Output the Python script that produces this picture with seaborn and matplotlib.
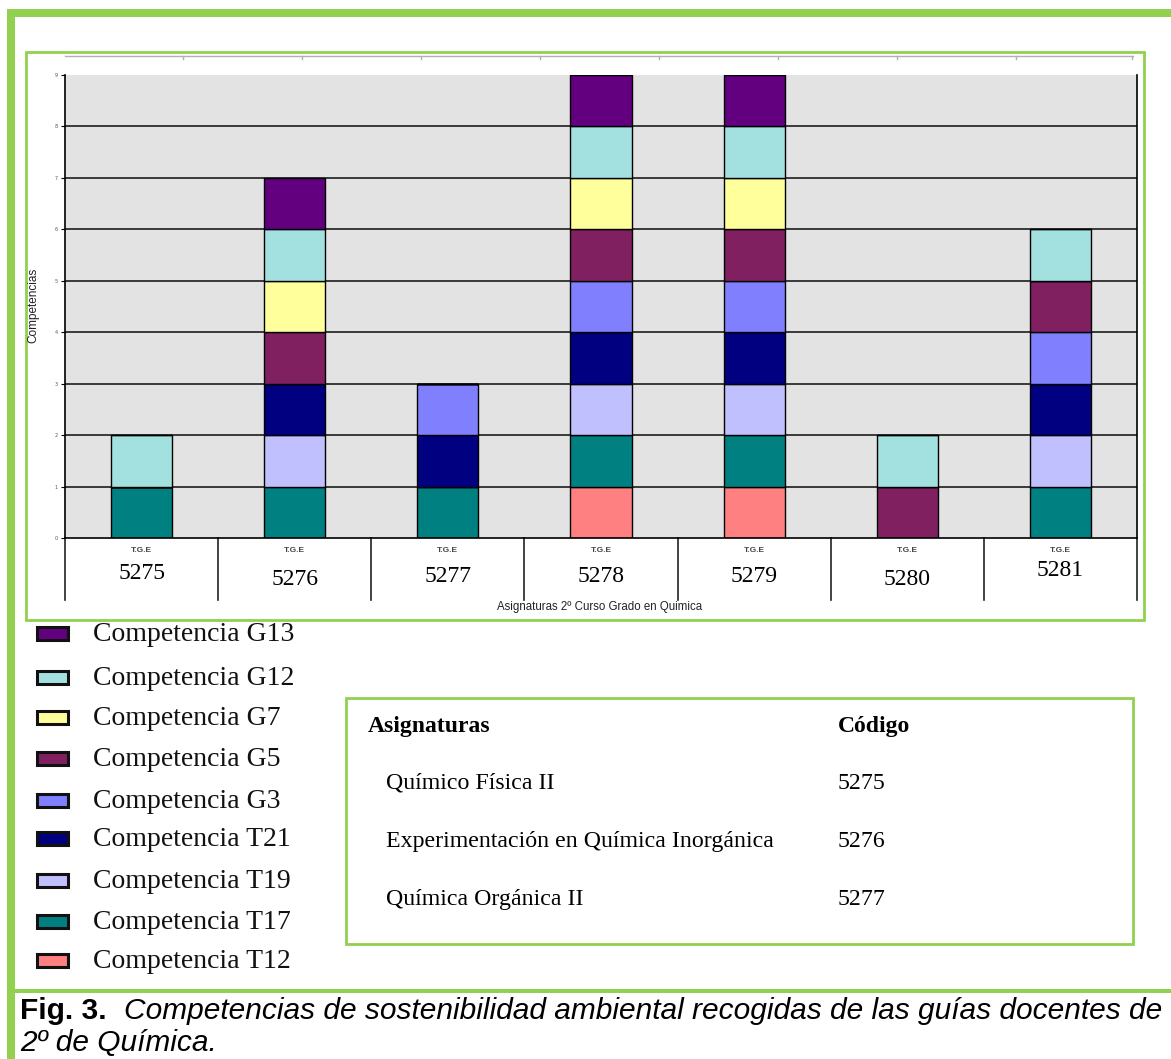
import pandas as pd
import matplotlib
matplotlib.use('Agg')
import matplotlib.pyplot as plt
from matplotlib.patches import Rectangle
from matplotlib.lines import Line2D
import seaborn as sns

# Data
codigos = ['5275', '5276', '5277', '5278', '5279', '5280', '5281']
competencias = ['G13', 'G12', 'G7', 'G5', 'G3', 'T21', 'T19', 'T17', 'T12']
colores = ['#620080', '#a3e0e0', '#ffff9c', '#802060', '#8080ff',
           '#000080', '#c0c0ff', '#008080', '#ff8080']

# 1 = competencia recogida en la guia docente (por codigo)
g13 = [0, 1, 0, 1, 1, 0, 0]
g12 = [1, 1, 0, 1, 1, 1, 1]
g7 = [0, 1, 0, 1, 1, 0, 0]
g5 = [0, 1, 0, 1, 1, 1, 1]
g3 = [0, 0, 1, 1, 1, 0, 1]
t21 = [0, 1, 1, 1, 1, 0, 1]
t19 = [0, 1, 0, 1, 1, 0, 1]
t17 = [1, 1, 1, 1, 1, 0, 1]
t12 = [0, 0, 0, 1, 1, 0, 0]
presencia = [g13, g12, g7, g5, g3, t21, t19, t17, t12]

asignaturas = ['Químico Física II',
               'Experimentación en Química Inorgánica',
               'Química Orgánica II']
asig_codigos = ['5275', '5276', '5277']

# long table for seaborn
rows = []
for c_i, cod in enumerate(codigos):
    for comp, vals in zip(competencias, presencia):
        rows.append({'Codigo': cod, 'Competencia': comp, 'n': vals[c_i]})
df = pd.DataFrame(rows)

W, H = 1171, 1059
GREEN = '#92d050'
fig = plt.figure(figsize=(W / 100, H / 100), dpi=100)


def fx(x):
    return x / W


def fy(y):
    return 1 - y / H


def rect(x0, y0, x1, y1, **kw):
    fig.add_artist(Rectangle((fx(x0), fy(y1)), fx(x1) - fx(x0), fy(y0) - fy(y1),
                             transform=fig.transFigure, **kw))


def hline(x0, x1, y, **kw):
    fig.add_artist(Line2D([fx(x0), fx(x1)], [fy(y), fy(y)], transform=fig.transFigure, **kw))


# green page frame
rect(7, 9, W + 5, 17, facecolor=GREEN, edgecolor='none')
rect(7, 9, 15, H + 5, facecolor=GREEN, edgecolor='none')
rect(15, 989, W + 5, 993, facecolor=GREEN, edgecolor='none')
rect(26, 52, 1144, 620, facecolor='none', edgecolor=GREEN, linewidth=2)

# faint line above the plot
hline(65, 1133, 56, color='#b0b0b0', linewidth=1)
for tx in [183, 302, 421, 540, 659, 778, 897, 1016, 1132]:
    fig.add_artist(Line2D([fx(tx), fx(tx)], [fy(56), fy(59)], transform=fig.transFigure,
                          color='#b0b0b0', linewidth=1))

# plot area
ax = fig.add_axes([fx(65), fy(538), fx(1137) - fx(65), fy(75) - fy(538)])
ax.set_facecolor('#e3e3e3')
for yv in range(1, 9):
    ax.axhline(yv, color='#1e1e1e', linewidth=1.2, zorder=0.5)

sns.histplot(data=df, x='Codigo', hue='Competencia', weights='n',
             hue_order=competencias, palette=dict(zip(competencias, colores)),
             multiple='stack', discrete=True, shrink=0.4, alpha=1,
             edgecolor='black', linewidth=1, legend=False, ax=ax, zorder=2)

ax.set_xlim(-0.5, len(codigos) - 0.5)
ax.set_ylim(0, 9)
ax.set_xticks([])
ax.set_xlabel('')
ax.set_ylabel('')
ax.set_yticks(range(10))
ax.set_yticklabels([str(v) for v in range(10)], fontsize=3.5, color='#555555')
ax.tick_params(axis='y', length=3, width=0.8, pad=2)
for s in ['left', 'right', 'bottom']:
    ax.spines[s].set_color('black')
    ax.spines[s].set_linewidth(1.2)
ax.spines['top'].set_visible(False)

# category table under the axis
tr = ax.get_xaxis_transform()
for i in range(len(codigos) + 1):
    ax.plot([i - 0.5, i - 0.5], [0, -0.134], color='#222222', linewidth=1.2,
            transform=tr, clip_on=False)
offsets = [-0.077, -0.09, -0.084, -0.084, -0.084, -0.09, -0.071]
for i, cod in enumerate(codigos):
    ax.text(i, -0.028, 'T.G.E', transform=tr, ha='center', va='center',
            fontsize=6, color='#444444', family='Liberation Sans', fontweight='bold')
    ax.text(i, offsets[i], cod, transform=tr, ha='center', va='center',
            fontsize=17, family='Liberation Serif')

fig.text(fx(600), fy(607), 'Asignaturas 2º Curso Grado en Quimica', ha='center', va='center',
         fontsize=8.3, family='Liberation Sans', color='#222222')
fig.text(fx(33), fy(305), 'Competencias', rotation=90, ha='center', va='center',
         fontsize=8.5, family='Liberation Sans', color='#222222')

# legend
leg_y = [633, 677, 717, 758, 800, 838, 880, 921, 960]
for comp, col, yy in zip(competencias, colores, leg_y):
    rect(37, yy - 6, 68, yy + 7, facecolor=col, edgecolor='#111111', linewidth=2.2)
    fig.text(fx(93), fy(yy + 8), 'Competencia ' + comp, ha='left', va='baseline',
             fontsize=20, family='Liberation Serif', color='#111111')

# subject table
rect(346, 698, 1133, 944, facecolor='none', edgecolor=GREEN, linewidth=2)
fig.text(fx(368), fy(732), 'Asignaturas', ha='left', va='baseline', fontsize=17,
         family='Liberation Serif', fontweight='bold')
fig.text(fx(838), fy(732), 'Código', ha='left', va='baseline', fontsize=17,
         family='Liberation Serif', fontweight='bold')
for nombre, cod, yy in zip(asignaturas, asig_codigos, [789, 847, 905]):
    fig.text(fx(386), fy(yy), nombre, ha='left', va='baseline', fontsize=17.2,
             family='Liberation Serif')
    fig.text(fx(838), fy(yy), cod, ha='left', va='baseline', fontsize=17.2,
             family='Liberation Serif')

# caption
fig.text(fx(20), fy(1011), 'Fig. 3.', ha='left', va='center', fontsize=21.5,
         family='Liberation Sans', fontweight='bold')
fig.text(fx(124), fy(1011),
         'Competencias de sostenibilidad ambiental recogidas de las guías docentes de',
         ha='left', va='center', fontsize=21.5, family='Liberation Sans', style='italic')
fig.text(fx(20), fy(1043), '2º de Química.', ha='left', va='center', fontsize=21.5,
         family='Liberation Sans', style='italic')

fig.savefig('out.png', dpi=100)
